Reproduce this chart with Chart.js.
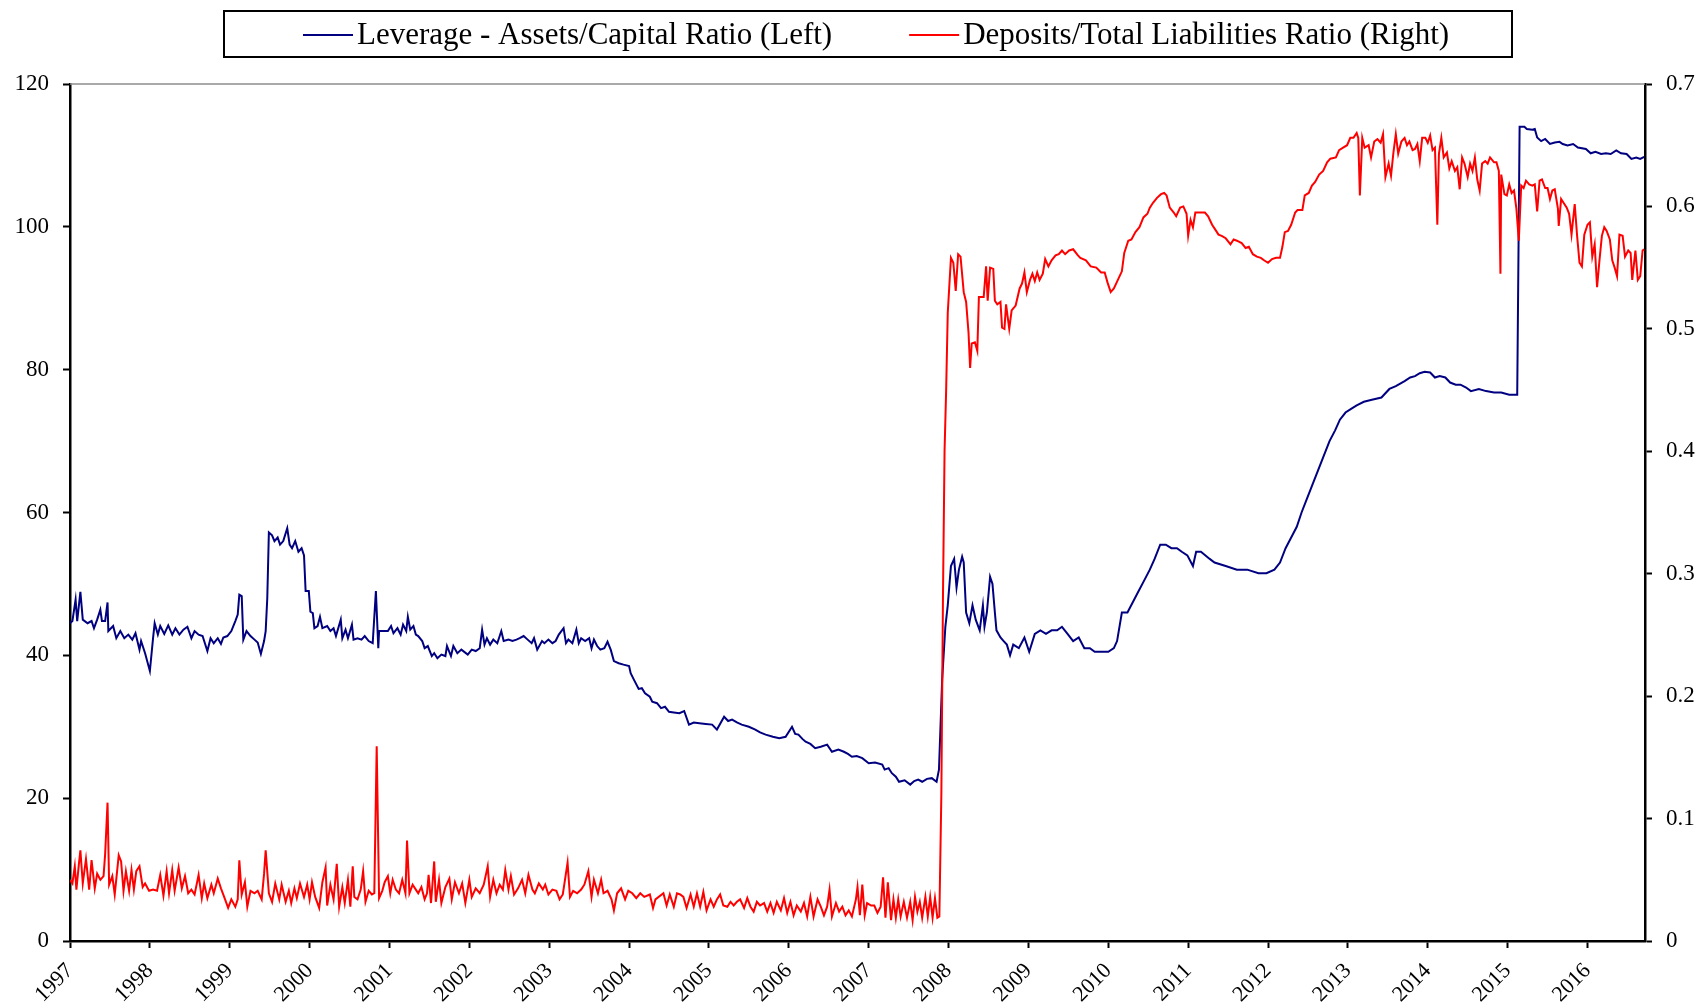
<!DOCTYPE html>
<html>
<head>
<meta charset="utf-8">
<script src="https://cdn.jsdelivr.net/npm/chart.js@4.4.1/dist/chart.umd.min.js"></script>
<style>
  html, body { margin: 0; padding: 0; background: #fff; }
  canvas { display: block; }
</style>
</head>
<body>
<canvas id="chart" width="1706" height="1008"></canvas>
<script>
// Axis ticks
const yearTicks = [1997, 1998, 1999, 2000, 2001, 2002, 2003, 2004, 2005, 2006, 2007, 2008, 2009, 2010, 2011, 2012, 2013, 2014, 2015, 2016];
const leftTicks = [0, 20, 40, 60, 80, 100, 120];
const rightTicks = [0, 0.1, 0.2, 0.3, 0.4, 0.5, 0.6, 0.7];

const seriesLabels = ['Leverage - Assets/Capital Ratio (Left)', 'Deposits/Total Liabilities Ratio (Right)'];

// Leverage (left axis), dates as decimal years
const levDates = [
  1997.00, 1997.03, 1997.07, 1997.09, 1997.13, 1997.16, 1997.22, 1997.27, 1997.30, 1997.34, 1997.38, 1997.40, 1997.44, 1997.47, 1997.48,
  1997.54, 1997.58, 1997.63, 1997.68, 1997.73, 1997.78, 1997.82, 1997.87, 1997.89, 1997.94, 1998.00, 1998.04, 1998.06, 1998.10, 1998.13,
  1998.18, 1998.23, 1998.28, 1998.32, 1998.37, 1998.42, 1998.47, 1998.52, 1998.56, 1998.61, 1998.66, 1998.68, 1998.72, 1998.76, 1998.80,
  1998.85, 1998.89, 1998.92, 1998.97, 1999.02, 1999.07, 1999.10, 1999.12, 1999.15, 1999.17, 1999.21, 1999.26, 1999.31, 1999.35, 1999.39,
  1999.43, 1999.45, 1999.47, 1999.49, 1999.53, 1999.56, 1999.60, 1999.63, 1999.67, 1999.72, 1999.75, 1999.78, 1999.82, 1999.86, 1999.90,
  1999.93, 1999.95, 1999.99, 2000.01, 2000.04, 2000.06, 2000.10, 2000.13, 2000.16, 2000.22, 2000.26, 2000.30, 2000.33, 2000.39, 2000.41,
  2000.45, 2000.48, 2000.53, 2000.55, 2000.60, 2000.65, 2000.69, 2000.74, 2000.79, 2000.83, 2000.86, 2000.87, 2000.93, 2000.98, 2001.02,
  2001.05, 2001.10, 2001.14, 2001.17, 2001.21, 2001.23, 2001.26, 2001.30, 2001.33, 2001.36, 2001.41, 2001.44, 2001.48, 2001.53, 2001.56,
  2001.60, 2001.65, 2001.70, 2001.72, 2001.77, 2001.80, 2001.85, 2001.90, 2001.98, 2002.03, 2002.08, 2002.13, 2002.16, 2002.19, 2002.22,
  2002.26, 2002.30, 2002.35, 2002.40, 2002.43, 2002.49, 2002.54, 2002.59, 2002.63, 2002.68, 2002.73, 2002.78, 2002.81, 2002.85, 2002.91,
  2002.94, 2002.99, 2003.04, 2003.08, 2003.12, 2003.18, 2003.21, 2003.24, 2003.29, 2003.34, 2003.37, 2003.40, 2003.45, 2003.50, 2003.53,
  2003.56, 2003.60, 2003.64, 2003.69, 2003.73, 2003.77, 2003.81, 2003.87, 2003.93, 2004.00, 2004.02, 2004.06, 2004.12, 2004.16, 2004.20,
  2004.26, 2004.29, 2004.35, 2004.40, 2004.45, 2004.50, 2004.56, 2004.63, 2004.69, 2004.75, 2004.81, 2004.88, 2004.96, 2005.04, 2005.10,
  2005.19, 2005.24, 2005.29, 2005.35, 2005.41, 2005.50, 2005.58, 2005.64, 2005.71, 2005.80, 2005.88, 2005.96, 2006.04, 2006.08, 2006.12,
  2006.17, 2006.21, 2006.27, 2006.33, 2006.40, 2006.48, 2006.54, 2006.62, 2006.69, 2006.74, 2006.79, 2006.85, 2006.92, 2007.00, 2007.08,
  2007.17, 2007.20, 2007.25, 2007.29, 2007.34, 2007.38, 2007.45, 2007.52, 2007.57, 2007.62, 2007.67, 2007.73, 2007.79, 2007.85, 2007.88,
  2007.92, 2007.96, 2007.99, 2008.03, 2008.07, 2008.10, 2008.13, 2008.17, 2008.19, 2008.22, 2008.26, 2008.30, 2008.34, 2008.39, 2008.43,
  2008.45, 2008.48, 2008.52, 2008.55, 2008.58, 2008.60, 2008.65, 2008.69, 2008.73, 2008.77, 2008.81, 2008.88, 2008.95, 2009.01, 2009.08,
  2009.15, 2009.22, 2009.29, 2009.36, 2009.42, 2009.49, 2009.56, 2009.63, 2009.70, 2009.77, 2009.83, 2009.90, 2010.00, 2010.07, 2010.11,
  2010.17, 2010.24, 2010.31, 2010.38, 2010.45, 2010.52, 2010.58, 2010.65, 2010.72, 2010.79, 2010.86, 2010.92, 2010.99, 2011.06, 2011.10,
  2011.16, 2011.27, 2011.33, 2011.47, 2011.61, 2011.74, 2011.88, 2011.98, 2012.08, 2012.15, 2012.22, 2012.29, 2012.36, 2012.42, 2012.49,
  2012.56, 2012.63, 2012.70, 2012.77, 2012.84, 2012.90, 2012.97, 2013.04, 2013.11, 2013.20, 2013.30, 2013.42, 2013.52, 2013.60, 2013.71,
  2013.78, 2013.84, 2013.90, 2013.96, 2014.03, 2014.09, 2014.15, 2014.22, 2014.28, 2014.35, 2014.41, 2014.48, 2014.54, 2014.64, 2014.73,
  2014.83, 2014.92, 2015.02, 2015.12, 2015.15, 2015.21, 2015.24, 2015.31, 2015.34, 2015.37, 2015.42, 2015.47, 2015.53, 2015.59, 2015.65,
  2015.69, 2015.75, 2015.82, 2015.88, 2015.98, 2016.04, 2016.10, 2016.17, 2016.23, 2016.29, 2016.36, 2016.42, 2016.49, 2016.55, 2016.61,
  2016.66, 2016.71
];
const levValues = [
  44.5, 44.8, 47.8, 44.8, 48.9, 45.0, 44.5, 44.8, 43.8, 45.0, 46.4, 44.8, 44.8, 47.4, 43.4,
  44.1, 42.4, 43.4, 42.4, 42.9, 42.2, 43.1, 40.8, 42.0, 40.3, 37.8, 42.4, 44.5, 42.9, 44.1,
  43.0, 44.2, 42.9, 43.8, 42.9, 43.6, 44.0, 42.4, 43.4, 42.9, 42.7, 42.0, 40.6, 42.4, 41.7,
  42.4, 41.6, 42.5, 42.7, 43.4, 44.8, 45.7, 48.5, 48.3, 42.2, 43.4, 42.7, 42.2, 41.8, 40.2,
  42.0, 43.4, 48.0, 57.2, 56.8, 56.0, 56.5, 55.5, 56.0, 57.8, 55.5, 55.0, 56.0, 54.5, 55.0,
  54.0, 49.0, 49.0, 46.1, 45.9, 43.8, 44.1, 45.4, 43.8, 44.1, 43.4, 43.8, 42.7, 45.0, 42.4,
  43.6, 42.4, 44.3, 42.2, 42.4, 42.2, 42.7, 42.0, 41.7, 49.0, 41.0, 43.4, 43.4, 43.4, 44.1,
  43.1, 43.8, 42.9, 44.3, 43.4, 45.4, 43.6, 44.1, 42.9, 42.7, 42.0, 41.0, 41.3, 39.9, 40.3,
  39.6, 40.1, 39.9, 41.3, 39.9, 41.3, 40.3, 40.8, 40.1, 40.8, 40.6, 41.0, 43.6, 41.5, 42.4,
  41.5, 42.2, 41.7, 43.4, 42.0, 42.2, 42.0, 42.2, 42.4, 42.7, 42.2, 41.7, 42.4, 40.8, 42.0,
  41.7, 42.2, 41.7, 42.0, 42.9, 43.8, 41.7, 42.2, 41.7, 43.6, 41.7, 42.4, 42.0, 42.4, 41.0,
  42.2, 41.3, 40.8, 41.0, 41.9, 40.8, 39.2, 38.9, 38.7, 38.5, 37.5, 36.6, 35.3, 35.4, 34.7,
  34.2, 33.5, 33.3, 32.6, 32.8, 32.1, 32.0, 31.9, 32.2, 30.3, 30.6, 30.5, 30.4, 30.3, 29.6,
  31.4, 30.8, 31.0, 30.6, 30.3, 30.0, 29.6, 29.2, 28.9, 28.6, 28.4, 28.6, 30.0, 29.0, 28.9,
  28.3, 27.9, 27.6, 27.0, 27.2, 27.5, 26.5, 26.8, 26.5, 26.2, 25.8, 25.9, 25.6, 24.9, 25.0,
  24.7, 24.0, 24.2, 23.5, 23.0, 22.3, 22.5, 21.9, 22.4, 22.6, 22.3, 22.7, 22.8, 22.3, 24.0,
  36.6, 44.0, 47.0, 52.5, 53.5, 49.5, 52.0, 53.8, 53.0, 46.0, 44.5, 47.0, 45.0, 43.5, 47.0,
  44.0, 46.0, 51.0, 50.0, 46.0, 43.5, 42.5, 42.0, 41.5, 40.0, 41.5, 41.0, 42.5, 40.5, 43.0,
  43.5, 43.0, 43.5, 43.5, 44.0, 43.0, 42.0, 42.5, 41.0, 41.0, 40.5, 40.5, 40.5, 41.0, 42.0,
  46.0, 46.0, 47.5, 49.0, 50.5, 52.0, 53.5, 55.5, 55.5, 55.0, 55.0, 54.5, 54.0, 52.5, 54.5,
  54.5, 53.5, 53.0, 52.5, 52.0, 52.0, 51.5, 51.5, 52.0, 53.0, 55.0, 56.5, 58.0, 60.0, 62.0,
  64.0, 66.0, 68.0, 70.0, 71.5, 73.0, 74.0, 74.5, 75.0, 75.5, 75.8, 76.1, 77.3, 77.7, 78.4,
  78.9, 79.1, 79.5, 79.7, 79.6, 78.9, 79.1, 78.9, 78.2, 77.9, 77.9, 77.5, 77.0, 77.3, 77.0,
  76.8, 76.8, 76.5, 76.5, 114.0, 114.0, 113.7, 113.6, 113.7, 112.5, 112.0, 112.3, 111.6, 111.8, 111.9,
  111.6, 111.4, 111.6, 111.1, 110.9, 110.3, 110.5, 110.2, 110.3, 110.2, 110.7, 110.3, 110.2, 109.5, 109.7,
  109.5, 109.8
];

// Deposits / total liabilities (right axis)
const depDates = [
  1997.00, 1997.03, 1997.06, 1997.08, 1997.11, 1997.13, 1997.16, 1997.20, 1997.24, 1997.27, 1997.31, 1997.34, 1997.38, 1997.42, 1997.44,
  1997.47, 1997.49, 1997.53, 1997.56, 1997.61, 1997.64, 1997.67, 1997.70, 1997.74, 1997.77, 1997.80, 1997.83, 1997.87, 1997.91, 1997.94,
  1997.99, 1998.04, 1998.09, 1998.13, 1998.17, 1998.21, 1998.24, 1998.28, 1998.31, 1998.36, 1998.40, 1998.44, 1998.48, 1998.52, 1998.56,
  1998.61, 1998.65, 1998.68, 1998.72, 1998.77, 1998.80, 1998.85, 1998.89, 1998.93, 1998.98, 1999.02, 1999.07, 1999.10, 1999.12, 1999.15,
  1999.19, 1999.22, 1999.26, 1999.31, 1999.35, 1999.40, 1999.43, 1999.45, 1999.49, 1999.53, 1999.57, 1999.62, 1999.65, 1999.70, 1999.74,
  1999.77, 1999.81, 1999.84, 1999.88, 1999.93, 1999.97, 2000.00, 2000.03, 2000.07, 2000.12, 2000.16, 2000.20, 2000.22, 2000.26, 2000.30,
  2000.34, 2000.37, 2000.41, 2000.44, 2000.48, 2000.51, 2000.54, 2000.56, 2000.60, 2000.64, 2000.67, 2000.70, 2000.74, 2000.78, 2000.81,
  2000.84, 2000.87, 2000.91, 2000.94, 2000.98, 2001.01, 2001.04, 2001.08, 2001.12, 2001.16, 2001.20, 2001.22, 2001.25, 2001.29, 2001.33,
  2001.36, 2001.40, 2001.44, 2001.47, 2001.49, 2001.52, 2001.56, 2001.58, 2001.62, 2001.65, 2001.70, 2001.75, 2001.78, 2001.82, 2001.87,
  2001.91, 2001.95, 2002.00, 2002.03, 2002.08, 2002.13, 2002.18, 2002.23, 2002.26, 2002.30, 2002.34, 2002.38, 2002.42, 2002.45, 2002.49,
  2002.52, 2002.56, 2002.61, 2002.66, 2002.70, 2002.74, 2002.79, 2002.82, 2002.87, 2002.92, 2002.95, 2002.99, 2003.04, 2003.09, 2003.13,
  2003.17, 2003.23, 2003.26, 2003.30, 2003.35, 2003.40, 2003.44, 2003.49, 2003.53, 2003.56, 2003.61, 2003.65, 2003.68, 2003.73, 2003.78,
  2003.81, 2003.85, 2003.90, 2003.95, 2003.99, 2004.04, 2004.09, 2004.14, 2004.19, 2004.26, 2004.30, 2004.33, 2004.43, 2004.47, 2004.51,
  2004.56, 2004.60, 2004.64, 2004.68, 2004.72, 2004.77, 2004.81, 2004.85, 2004.89, 2004.93, 2004.97, 2005.02, 2005.06, 2005.10, 2005.14,
  2005.18, 2005.23, 2005.27, 2005.31, 2005.35, 2005.39, 2005.44, 2005.48, 2005.52, 2005.56, 2005.60, 2005.64, 2005.69, 2005.73, 2005.77,
  2005.81, 2005.85, 2005.90, 2005.94, 2005.98, 2006.02, 2006.06, 2006.10, 2006.15, 2006.19, 2006.23, 2006.27, 2006.31, 2006.36, 2006.40,
  2006.44, 2006.48, 2006.51, 2006.54, 2006.59, 2006.63, 2006.67, 2006.71, 2006.75, 2006.79, 2006.84, 2006.86, 2006.89, 2006.92, 2006.95,
  2006.98, 2007.03, 2007.07, 2007.11, 2007.15, 2007.18, 2007.21, 2007.24, 2007.28, 2007.31, 2007.34, 2007.37, 2007.40, 2007.44, 2007.48,
  2007.52, 2007.55, 2007.58, 2007.61, 2007.64, 2007.67, 2007.71, 2007.74, 2007.77, 2007.80, 2007.83, 2007.86, 2007.885, 2007.91, 2007.93,
  2007.95, 2007.97, 2007.99, 2008.03, 2008.06, 2008.09, 2008.12, 2008.15, 2008.19, 2008.22, 2008.25, 2008.27, 2008.29, 2008.33, 2008.36,
  2008.38, 2008.44, 2008.47, 2008.49, 2008.52, 2008.56, 2008.58, 2008.61, 2008.65, 2008.67, 2008.70, 2008.72, 2008.76, 2008.79, 2008.84,
  2008.89, 2008.92, 2008.95, 2008.98, 2009.02, 2009.05, 2009.08, 2009.11, 2009.14, 2009.18, 2009.21, 2009.25, 2009.29, 2009.34, 2009.38,
  2009.42, 2009.46, 2009.51, 2009.56, 2009.62, 2009.65, 2009.72, 2009.78, 2009.85, 2009.91, 2009.955, 2009.99, 2010.03, 2010.07, 2010.12,
  2010.17, 2010.20, 2010.25, 2010.29, 2010.34, 2010.39, 2010.44, 2010.49, 2010.52, 2010.56, 2010.61, 2010.66, 2010.70, 2010.73, 2010.77,
  2010.82, 2010.85, 2010.90, 2010.94, 2010.98, 2011.00, 2011.03, 2011.06, 2011.09, 2011.16, 2011.21, 2011.25, 2011.30, 2011.35, 2011.38,
  2011.42, 2011.47, 2011.53, 2011.57, 2011.61, 2011.67, 2011.72, 2011.76, 2011.81, 2011.86, 2011.91, 2011.95, 2012.00, 2012.05, 2012.10,
  2012.15, 2012.18, 2012.21, 2012.25, 2012.29, 2012.34, 2012.37, 2012.43, 2012.46, 2012.51, 2012.55, 2012.59, 2012.64, 2012.69, 2012.74,
  2012.78, 2012.85, 2012.89, 2012.94, 2012.99, 2013.03, 2013.07, 2013.11, 2013.13, 2013.15, 2013.18, 2013.21, 2013.26, 2013.29, 2013.33,
  2013.37, 2013.41, 2013.44, 2013.47, 2013.51, 2013.54, 2013.57, 2013.60, 2013.63, 2013.67, 2013.71, 2013.74, 2013.77, 2013.81, 2013.84,
  2013.87, 2013.90, 2013.93, 2013.97, 2014.00, 2014.03, 2014.06, 2014.09, 2014.12, 2014.14, 2014.17, 2014.20, 2014.24, 2014.27, 2014.30,
  2014.34, 2014.37, 2014.40, 2014.43, 2014.46, 2014.50, 2014.53, 2014.56, 2014.59, 2014.62, 2014.65, 2014.68, 2014.72, 2014.75, 2014.78,
  2014.83, 2014.86, 2014.89, 2014.91, 2014.92, 2014.96, 2014.99, 2015.02, 2015.05, 2015.08, 2015.11, 2015.14, 2015.17, 2015.20, 2015.23,
  2015.27, 2015.31, 2015.34, 2015.37, 2015.40, 2015.43, 2015.47, 2015.50, 2015.53, 2015.56, 2015.59, 2015.63, 2015.64, 2015.67, 2015.70,
  2015.74, 2015.77, 2015.80, 2015.84, 2015.87, 2015.90, 2015.93, 2015.96, 2016.00, 2016.03, 2016.06, 2016.09, 2016.12, 2016.15, 2016.18,
  2016.21, 2016.24, 2016.28, 2016.31, 2016.34, 2016.37, 2016.40, 2016.44, 2016.47, 2016.51, 2016.54, 2016.56, 2016.60, 2016.63, 2016.66,
  2016.69, 2016.71
];
const depValues = [
  0.050, 0.047, 0.061, 0.042, 0.062, 0.074, 0.047, 0.067, 0.042, 0.066, 0.043, 0.055, 0.050, 0.053, 0.071,
  0.113, 0.046, 0.053, 0.038, 0.070, 0.065, 0.041, 0.057, 0.041, 0.058, 0.042, 0.057, 0.061, 0.044, 0.047,
  0.041, 0.042, 0.041, 0.054, 0.037, 0.057, 0.039, 0.058, 0.041, 0.060, 0.043, 0.053, 0.039, 0.042, 0.038,
  0.054, 0.035, 0.047, 0.035, 0.046, 0.039, 0.051, 0.043, 0.036, 0.027, 0.034, 0.028, 0.034, 0.066, 0.038,
  0.048, 0.028, 0.041, 0.039, 0.041, 0.034, 0.055, 0.074, 0.039, 0.032, 0.047, 0.034, 0.046, 0.032, 0.041,
  0.031, 0.043, 0.035, 0.047, 0.036, 0.046, 0.034, 0.048, 0.036, 0.027, 0.048, 0.060, 0.029, 0.046, 0.034,
  0.063, 0.028, 0.044, 0.031, 0.050, 0.028, 0.061, 0.036, 0.034, 0.042, 0.057, 0.032, 0.041, 0.038, 0.039,
  0.159, 0.035, 0.041, 0.048, 0.053, 0.039, 0.050, 0.042, 0.039, 0.050, 0.039, 0.082, 0.039, 0.046, 0.042,
  0.039, 0.044, 0.034, 0.039, 0.054, 0.031, 0.065, 0.032, 0.050, 0.031, 0.044, 0.051, 0.034, 0.048, 0.039,
  0.047, 0.031, 0.050, 0.036, 0.043, 0.039, 0.046, 0.061, 0.036, 0.050, 0.039, 0.046, 0.042, 0.058, 0.042,
  0.053, 0.038, 0.043, 0.050, 0.039, 0.054, 0.042, 0.039, 0.047, 0.042, 0.046, 0.038, 0.042, 0.041, 0.034,
  0.038, 0.064, 0.036, 0.041, 0.039, 0.042, 0.046, 0.057, 0.036, 0.050, 0.039, 0.050, 0.039, 0.041, 0.034,
  0.025, 0.039, 0.043, 0.034, 0.041, 0.039, 0.035, 0.039, 0.036, 0.038, 0.027, 0.034, 0.039, 0.029, 0.038,
  0.028, 0.039, 0.038, 0.036, 0.027, 0.038, 0.028, 0.039, 0.028, 0.040, 0.025, 0.034, 0.028, 0.034, 0.038,
  0.029, 0.028, 0.032, 0.029, 0.032, 0.034, 0.027, 0.035, 0.028, 0.024, 0.032, 0.029, 0.031, 0.024, 0.031,
  0.023, 0.032, 0.025, 0.035, 0.023, 0.032, 0.021, 0.029, 0.024, 0.031, 0.020, 0.036, 0.020, 0.034, 0.028,
  0.021, 0.028, 0.042, 0.020, 0.031, 0.024, 0.028, 0.021, 0.025, 0.020, 0.034, 0.044, 0.021, 0.046, 0.021,
  0.031, 0.029, 0.029, 0.023, 0.028, 0.052, 0.019, 0.048, 0.017, 0.034, 0.019, 0.034, 0.020, 0.032, 0.019,
  0.032, 0.017, 0.036, 0.024, 0.032, 0.019, 0.036, 0.020, 0.036, 0.019, 0.035, 0.019, 0.020, 0.120, 0.280,
  0.400, 0.450, 0.513, 0.558, 0.554, 0.531, 0.561, 0.559, 0.530, 0.522, 0.497, 0.468, 0.488, 0.489, 0.482,
  0.526, 0.526, 0.551, 0.523, 0.550, 0.549, 0.523, 0.520, 0.522, 0.501, 0.500, 0.520, 0.500, 0.515, 0.519,
  0.533, 0.537, 0.546, 0.530, 0.540, 0.545, 0.539, 0.546, 0.540, 0.545, 0.557, 0.551, 0.556, 0.560, 0.561,
  0.564, 0.561, 0.564, 0.565, 0.560, 0.558, 0.556, 0.551, 0.550, 0.546, 0.546, 0.538, 0.530, 0.533, 0.540,
  0.547, 0.562, 0.572, 0.573, 0.579, 0.583, 0.591, 0.594, 0.599, 0.603, 0.607, 0.610, 0.611, 0.609, 0.599,
  0.595, 0.592, 0.599, 0.600, 0.594, 0.576, 0.589, 0.583, 0.595, 0.595, 0.595, 0.592, 0.585, 0.580, 0.577,
  0.576, 0.574, 0.569, 0.573, 0.572, 0.570, 0.566, 0.567, 0.561, 0.559, 0.558, 0.556, 0.554, 0.557, 0.558,
  0.558, 0.567, 0.579, 0.580, 0.585, 0.595, 0.597, 0.597, 0.609, 0.611, 0.617, 0.620, 0.626, 0.629, 0.636,
  0.639, 0.640, 0.646, 0.648, 0.650, 0.656, 0.656, 0.660, 0.656, 0.609, 0.656, 0.648, 0.650, 0.640, 0.653,
  0.655, 0.652, 0.659, 0.624, 0.635, 0.625, 0.644, 0.659, 0.643, 0.653, 0.656, 0.650, 0.653, 0.646, 0.647,
  0.651, 0.637, 0.656, 0.656, 0.652, 0.658, 0.646, 0.648, 0.585, 0.643, 0.656, 0.640, 0.644, 0.631, 0.637,
  0.629, 0.632, 0.614, 0.640, 0.635, 0.624, 0.635, 0.629, 0.640, 0.622, 0.613, 0.635, 0.637, 0.635, 0.640,
  0.636, 0.636, 0.629, 0.545, 0.626, 0.610, 0.609, 0.618, 0.611, 0.613, 0.598, 0.572, 0.617, 0.615, 0.621,
  0.618, 0.617, 0.618, 0.596, 0.621, 0.622, 0.615, 0.615, 0.606, 0.613, 0.614, 0.598, 0.584, 0.606, 0.603,
  0.599, 0.594, 0.577, 0.602, 0.576, 0.554, 0.551, 0.577, 0.585, 0.587, 0.559, 0.569, 0.534, 0.556, 0.576,
  0.583, 0.580, 0.573, 0.556, 0.550, 0.543, 0.577, 0.576, 0.559, 0.564, 0.562, 0.540, 0.564, 0.540, 0.543,
  0.564, 0.565
];

const toPoints = (xs, ys) => xs.map((x, i) => ({ x: x, y: ys[i] }));

const FONT = '"Liberation Serif", "Times New Roman", serif';

// Legend in a black frame at the top, plus the grey top edge of the plot
const framePlugin = {
    id: 'framePlugin',
    afterDraw(chart) {
        const ctx = chart.ctx;
        const area = chart.chartArea;
        ctx.save();

        ctx.strokeStyle = '#8c8c8c';
        ctx.lineWidth = 1.5;
        ctx.beginPath();
        ctx.moveTo(area.left, area.top);
        ctx.lineTo(area.right, area.top);
        ctx.stroke();

        ctx.font = '31px ' + FONT;
        ctx.textBaseline = 'middle';
        let x = 303;
        const y = 35;
        chart.data.datasets.forEach((ds, i) => {
            if (i > 0) x += 77;
            ctx.strokeStyle = ds.borderColor;
            ctx.lineWidth = 2;
            ctx.beginPath();
            ctx.moveTo(x, y);
            ctx.lineTo(x + 50, y);
            ctx.stroke();
            x += 54;
            ctx.fillStyle = '#000';
            ctx.fillText(ds.label, x, y + 1);
            x += ctx.measureText(ds.label).width;
        });

        ctx.strokeStyle = '#000';
        ctx.lineWidth = 2;
        ctx.strokeRect(224, 11, 1288, 46);
        ctx.restore();
    }
};

const tickFont = { family: FONT, size: 23 };
const axisGrid = { display: true, drawOnChartArea: false, drawTicks: true, tickLength: 7, tickWidth: 2, color: '#000' };
const axisBorder = { display: true, color: '#000', width: 2.5 };

new Chart(document.getElementById('chart'), {
    type: 'line',
    data: {
        datasets: [{
            label: seriesLabels[0],
            data: toPoints(levDates, levValues),
            yAxisID: 'y',
            borderColor: '#000080',
            borderWidth: 2,
            pointRadius: 0,
            tension: 0,
            order: 1
        }, {
            label: seriesLabels[1],
            data: toPoints(depDates, depValues),
            yAxisID: 'y1',
            borderColor: '#ff0000',
            borderWidth: 2,
            pointRadius: 0,
            tension: 0,
            order: 0
        }]
    },
    options: {
        responsive: false,
        animation: false,
        devicePixelRatio: 1,
        layout: { padding: { top: 84, left: 0, right: 0, bottom: 0 } },
        plugins: {
            legend: { display: false },
            tooltip: { enabled: false }
        },
        scales: {
            x: {
                type: 'linear',
                min: 1997,
                max: 2016.72,
                grid: axisGrid,
                border: axisBorder,
                ticks: {
                    font: { family: FONT, size: 22 },
                    color: '#000',
                    autoSkip: false,
                    minRotation: 45,
                    maxRotation: 45,
                    padding: 10,
                    callback: v => String(v)
                },
                afterBuildTicks: s => { s.ticks = yearTicks.map(v => ({ value: v })); },
                afterFit: s => { s.height = 67; }
            },
            y: {
                position: 'left',
                min: 0,
                max: 120,
                grid: axisGrid,
                border: axisBorder,
                ticks: { font: tickFont, color: '#000', padding: 14 },
                afterBuildTicks: s => { s.ticks = leftTicks.map(v => ({ value: v })); },
                afterFit: s => { s.width = 70; }
            },
            y1: {
                position: 'right',
                min: 0,
                max: 0.7,
                grid: axisGrid,
                border: axisBorder,
                ticks: {
                    font: tickFont,
                    color: '#000',
                    padding: 14,
                    callback: v => String(Math.round(v * 10) / 10)
                },
                afterBuildTicks: s => { s.ticks = rightTicks.map(v => ({ value: v })); },
                afterFit: s => { s.width = 61; }
            }
        }
    },
    plugins: [framePlugin]
});
</script>
</body>
</html>
